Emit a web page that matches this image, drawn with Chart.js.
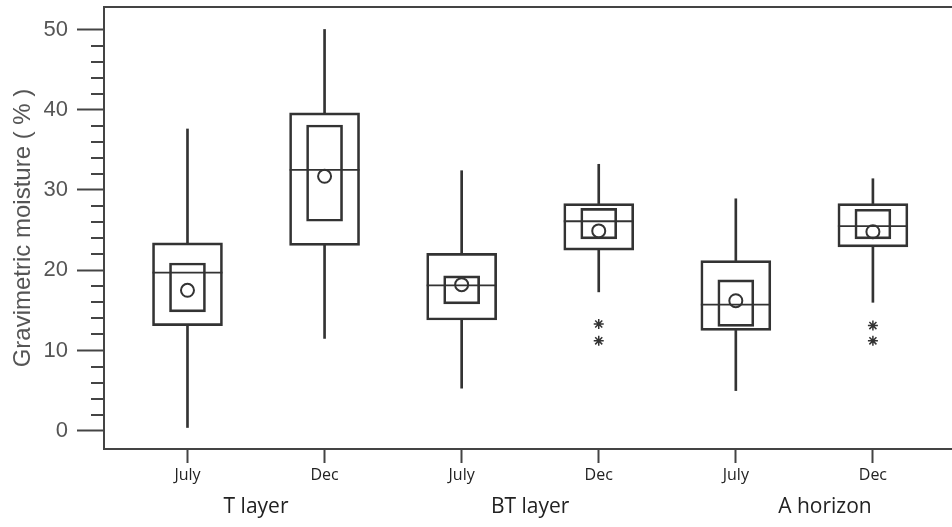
<!DOCTYPE html>
<html>
<head>
<meta charset="utf-8">
<script src="https://cdn.jsdelivr.net/npm/chart.js@4.4.1/dist/chart.umd.min.js"></script>
<style>
  html, body { margin: 0; padding: 0; background: #fff; }
  #wrap { width: 952px; height: 527px; position: relative; }
</style>
</head>
<body>
<div id="wrap"><canvas id="c"></canvas></div>
<script>
// ---- data ----
const categories = ['July', 'Dec', 'July', 'Dec', 'July', 'Dec'];
const xPos = [1, 2, 3, 4, 5, 6];
const groups = ['T layer', 'BT layer', 'A horizon'];
const groupPos = [1.5, 3.5, 5.65];
const whiskerLow  = [0.4, 11.5, 5.3, 17.3, 5.0, 16.0];
const q1          = [13.1, 23.1, 13.8, 22.5, 12.5, 22.9];
const median      = [19.7, 32.5, 18.1, 26.1, 15.7, 25.5];
const q3          = [23.4, 39.6, 22.1, 28.3, 21.2, 28.3];
const whiskerHigh = [37.6, 50.0, 32.4, 33.2, 28.9, 31.4];
const ciLow       = [14.8, 26.1, 15.8, 23.9, 13.0, 23.9];
const ciHigh      = [20.9, 38.1, 19.3, 27.7, 18.8, 27.6];
const means       = [17.5, 31.7, 18.2, 24.9, 16.2, 24.8];
const outlierCat  = [4, 4, 6, 6];
const outlierVal  = [13.3, 11.2, 13.1, 11.2];
const yMajorTicks = [0, 10, 20, 30, 40, 50];
const yMinorTicks = [2, 4, 6, 8, 12, 14, 16, 18, 22, 24, 26, 28, 32, 34, 36, 38, 42, 44, 46, 48];

const INK = '#333';

const decor = {
  id: 'decor',
  afterDraw(chart) {
    const { ctx, chartArea: a, scales: { x, y } } = chart;
    ctx.save();
    ctx.strokeStyle = '#444';
    ctx.lineWidth = 2;
    ctx.beginPath();
    ctx.moveTo(a.left - 1, a.top);
    ctx.lineTo(a.right, a.top);
    ctx.stroke();
    ctx.beginPath();
    yMinorTicks.forEach(v => {
      const py = Math.round(y.getPixelForValue(v));
      ctx.moveTo(a.left - 13, py);
      ctx.lineTo(a.left, py);
    });
    ctx.stroke();
    ctx.fillStyle = '#222';
    ctx.font = '21px "Open Sans"';
    ctx.textAlign = 'center';
    ctx.textBaseline = 'middle';
    groups.forEach((g, i) => ctx.fillText(g, x.getPixelForValue(groupPos[i]), a.bottom + 58));
    ctx.restore();
  }
};

const pts = arr => arr.map((v, i) => ({ x: xPos[i], y: v }));
const rng = (lo, hi) => lo.map((v, i) => ({ x: xPos[i], y: [v, hi[i]] }));

new Chart(document.getElementById('c'), {
  type: 'bar',
  data: {
    datasets: [
      { type: 'scatter', data: pts(median), pointStyle: 'line', pointRadius: 35, borderColor: INK, borderWidth: 1.8, backgroundColor: INK },
      { type: 'scatter', data: pts(means), pointStyle: 'circle', pointRadius: 6.5, borderColor: INK, borderWidth: 2, backgroundColor: 'rgba(0,0,0,0)' },
      { type: 'scatter', data: outlierVal.map((v, i) => ({ x: outlierCat[i], y: v })), pointStyle: 'star', pointRadius: 5, borderColor: INK, borderWidth: 1.5 },
      { data: rng(q1, q3), barThickness: 70, backgroundColor: 'rgba(0,0,0,0)', borderColor: INK, borderWidth: 2, borderSkipped: false },
      { data: rng(ciLow, ciHigh), barThickness: 36, backgroundColor: 'rgba(0,0,0,0)', borderColor: INK, borderWidth: 2, borderSkipped: false },
      { data: rng(whiskerLow, q1), barThickness: 2, backgroundColor: INK, borderWidth: 0 },
      { data: rng(q3, whiskerHigh), barThickness: 2, backgroundColor: INK, borderWidth: 0 }
    ]
  },
  options: {
    responsive: true,
    maintainAspectRatio: false,
    animation: false,
    events: [],
    datasets: { bar: { grouped: false } },
    layout: { autoPadding: false, padding: { top: 7, left: 0, right: 0, bottom: 0 } },
    plugins: { legend: { display: false }, tooltip: { enabled: false } },
    scales: {
      x: {
        type: 'linear',
        min: 0.391,
        max: 6.577,
        offset: false,
        afterBuildTicks: s => { s.ticks = xPos.map(v => ({ value: v })); },
        afterFit: s => { s.height = 78; s.paddingLeft = 0; s.paddingRight = 0; },
        grid: { offset: false, drawOnChartArea: false, tickLength: 14, tickWidth: 2, tickColor: '#444' },
        border: { display: true, color: '#444', width: 2 },
        ticks: {
          autoSkip: false, maxRotation: 0, padding: 3,
          color: '#222', font: { family: 'Open Sans', size: 16 },
          callback: v => categories[xPos.indexOf(v)]
        }
      },
      y: {
        type: 'linear',
        min: -2.28,
        max: 52.8,
        afterBuildTicks: s => { s.ticks = yMajorTicks.map(v => ({ value: v })); },
        afterFit: s => { s.width = 104; s.paddingTop = 0; s.paddingBottom = 0; },
        grid: { drawOnChartArea: false, tickLength: 27, tickWidth: 2, tickColor: '#444' },
        border: { display: true, color: '#444', width: 2 },
        ticks: {
          autoSkip: false, padding: 9,
          color: '#555', font: { family: 'Liberation Sans', size: 22 }
        },
        title: {
          display: true, text: 'Gravimetric moisture ( % )',
          color: '#555', font: { family: 'Liberation Sans', size: 24 },
          padding: { top: 9, bottom: 0 }
        }
      }
    }
  },
  plugins: [decor]
});
</script>
</body>
</html>
